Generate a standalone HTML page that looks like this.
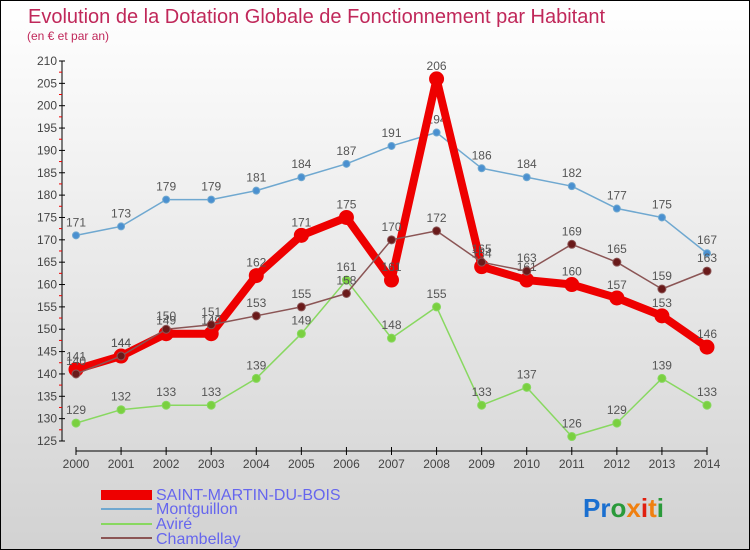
<!DOCTYPE html>
<html><head><meta charset="utf-8"><style>
body{margin:0}
#c{position:relative;width:748px;height:548px;border:1px solid #000;background:linear-gradient(#fff,#d2d2d2);overflow:hidden;font-family:"Liberation Sans",sans-serif}
</style></head><body>
<div id="c">
<svg id="s" width="748" height="548">
<text x="27" y="22" font-size="20" fill="#c0285a">Evolution de la Dotation Globale de Fonctionnement par Habitant</text>
<text x="26" y="39" font-size="12" fill="#c0285a">(en € et par an)</text>
<g id="ax"></g><g id="ser"></g>
<g>
<rect x="100" y="489" width="51" height="10" fill="#e00"/>
<text x="155" y="499" font-size="16" fill="#6666ee">SAINT-MARTIN-DU-BOIS</text>
<line x1="100" y1="508" x2="151" y2="508" stroke="#6fa8d0" stroke-width="2"/>
<text x="155" y="513" font-size="16" fill="#6666ee">Montguillon</text>
<line x1="100" y1="523" x2="151" y2="523" stroke="#88d860" stroke-width="2"/>
<text x="155" y="528" font-size="16" fill="#6666ee">Aviré</text>
<line x1="100" y1="537" x2="151" y2="537" stroke="#8b5555" stroke-width="2"/>
<text x="155" y="543" font-size="16" fill="#6666ee">Chambellay</text>
</g>
<text x="582" y="516" font-size="26" font-weight="bold"><tspan fill="#1a6fd0">Pr</tspan><tspan fill="#2a9a3a">o</tspan><tspan fill="#f08010">x</tspan><tspan fill="#e02010">i</tspan><tspan fill="#f08010">t</tspan><tspan fill="#2a9a3a">i</tspan></text>
</svg></div>
<script>
const years=[2000,2001,2002,2003,2004,2005,2006,2007,2008,2009,2010,2011,2012,2013,2014];
const yTicks=[125,130,135,140,145,150,155,160,165,170,175,180,185,190,195,200,205,210];
const smb=[141,144,149,149,162,171,175,161,206,164,161,160,157,153,146];
const montguillon=[171,173,179,179,181,184,187,191,194,186,184,182,177,175,167];
const avire=[129,132,133,133,139,149,161,148,155,133,137,126,129,139,133];
const chambellay=[140,144,150,151,153,155,158,170,172,165,163,169,165,159,163];
const NS="http://www.w3.org/2000/svg";
const X=i=>75+i*(631/14), Y=v=>60+(210-v)*(380/85);
function mk(t,a,p){const e=document.createElementNS(NS,t);for(const k in a)e.setAttribute(k,a[k]);p.appendChild(e);return e;}
const ax=document.getElementById('ax'),ser=document.getElementById('ser');
let l=mk('line',{x1:61,y1:60,x2:61,y2:440,stroke:'#000'},ax);


yTicks.forEach(v=>{const y=Y(v);
mk('line',{x1:58,y1:y,x2:64,y2:y,stroke:'#000'},ax);
if(v<210)mk('line',{x1:58,y1:y-11.2,x2:61,y2:y-11.2,stroke:'#e00'},ax);
const t=mk('text',{x:56,y:y+4,'font-size':12,fill:'#444','text-anchor':'end'},ax);t.textContent=v;

});
l=mk('line',{x1:75,y1:450,x2:706,y2:450,stroke:'#000'},ax);


years.forEach((yr,i)=>{mk('line',{x1:X(i),y1:446,x2:X(i),y2:454,stroke:'#000'},ax);
const t=mk('text',{x:X(i),y:467,'font-size':12,fill:'#444','text-anchor':'middle'},ax);t.textContent=yr;

});
function series(d,name,col,w,r,dot){const g=mk('g',{},ser);


mk('polyline',{points:d.map((v,i)=>X(i)+','+Y(v)).join(' '),fill:'none',stroke:col,'stroke-width':w,'stroke-linejoin':'round'},g);
d.forEach((v,i)=>{const c=mk('circle',{cx:X(i),cy:Y(v),r:r,fill:dot,stroke:col,'stroke-width':1},g);


const t=mk('text',{x:X(i),y:Y(v)-9,'font-size':12,fill:'#555','text-anchor':'middle'},g);t.textContent=v;

});}
series(avire,'avire','#88d860',1.5,4,'#7ad040');
series(montguillon,'montguillon','#6fa8d0',1.5,3.5,'#4a90d0');
series(smb,'saint-martin','#e00',8,7,'#e00');
series(chambellay,'chambellay','#8b5555',1.5,4,'#6a1a1a');
</script></body></html>
